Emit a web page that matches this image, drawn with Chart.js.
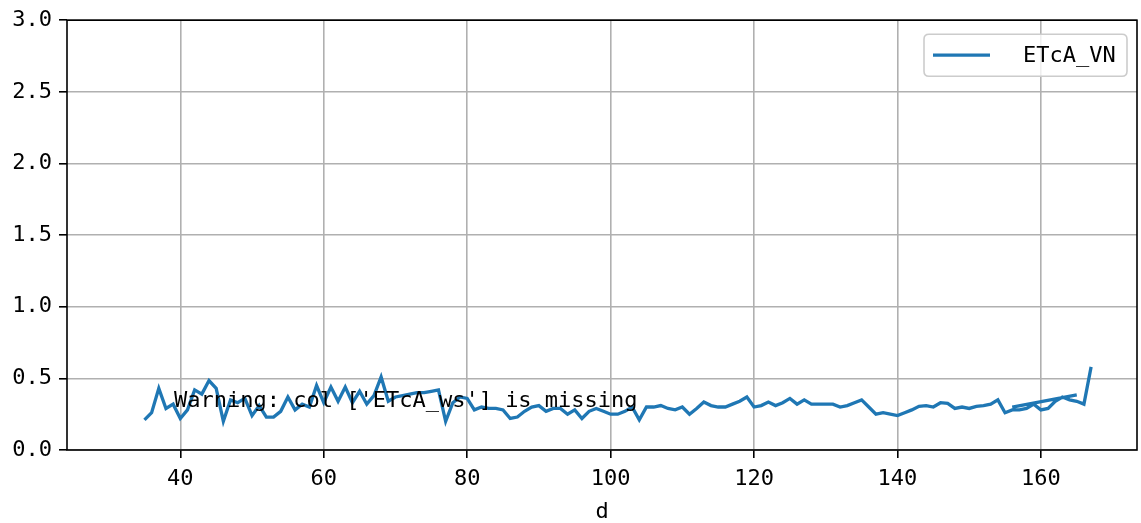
<!DOCTYPE html>
<html>
<head>
<meta charset="utf-8">
<script src="https://cdn.jsdelivr.net/npm/chart.js@4"></script>
<style>
html,body{margin:0;padding:0;background:#fff;}
#wrap{width:1141px;height:523px;}
</style>
</head>
<body>
<div id="wrap"><canvas id="c"></canvas></div>
<script>
const seriesLabel = 'ETcA_VN';
const warningText = "Warning: col ['ETcA_ws'] is missing";
const xTitle = 'd';

const days = [35,36,37,38,39,40,41,42,43,44,45,46,47,48,49,50,51,52,53,54,55,56,57,58,59,60,
  61,62,63,64,65,66,67,68,69,70,71,72,73,74,75,76,77,78,79,80,81,82,83,84,85,86,87,88,89,90,
  91,92,93,94,95,96,97,98,99,100,101,102,103,104,105,106,107,108,109,110,111,112,113,114,115,
  116,117,118,119,120,121,122,123,124,125,126,127,128,129,130,131,132,133,134,135,136,137,138,
  139,140,141,142,143,144,145,146,147,148,149,150,151,152,153,154,155,156,157,158,159,160,161,
  162,163,164,165,166,167];
const etcaVN = [0.21,0.26,0.43,0.29,0.32,0.22,0.28,0.42,0.39,0.485,0.43,0.20,0.35,0.33,0.36,0.24,
  0.31,0.23,0.23,0.27,0.37,0.28,0.32,0.30,0.45,0.33,
  0.44,0.34,0.44,0.33,0.41,0.32,0.38,0.51,0.34,0.37,0.38,0.39,0.40,0.40,0.41,0.42,0.20,0.33,0.37,0.36,
  0.28,0.30,0.29,0.29,0.28,0.22,0.23,0.27,0.30,0.31,
  0.27,0.29,0.29,0.25,0.28,0.22,0.27,0.29,0.27,0.25,0.25,0.27,0.30,0.21,0.30,0.30,0.31,0.29,0.28,0.30,
  0.25,0.29,0.335,0.31,0.30,
  0.30,0.32,0.34,0.37,0.30,0.31,0.335,0.31,0.33,0.36,0.32,0.35,0.32,0.32,0.32,0.32,0.30,0.31,0.33,0.35,
  0.30,0.25,0.26,
  0.25,0.24,0.26,0.28,0.305,0.31,0.30,0.33,0.325,0.29,0.30,0.29,0.305,0.31,0.32,0.35,0.26,0.28,0.28,
  0.29,0.32,0.28,0.29,
  0.34,0.37,0.35,0.34,0.32,0.58];
const extraDays = [156,165];
const extraVals = [0.30,0.385];

const yTicks = [0,0.5,1,1.5,2,2.5,3];
const xTicks = [40,60,80,100,120,140,160];

const FONT = '"DejaVu Sans Mono", monospace';
const lineColor = '#1f77b4';

const points = days.map((d,i)=>({x:d,y:etcaVN[i]}))
  .concat([{x:166,y:null}])
  .concat(extraDays.map((d,i)=>({x:d,y:extraVals[i]})));

const framePlugin = {
  id:'frame',
  afterDraw(chart){
    const {ctx, chartArea:a} = chart;
    ctx.save();
    ctx.strokeStyle = '#000';
    ctx.lineWidth = 1.6;
    ctx.strokeRect(a.left, a.top, a.right-a.left, a.bottom-a.top);
    ctx.fillStyle = '#000';
    ctx.font = '22px ' + FONT;
    ctx.textBaseline = 'alphabetic';
    ctx.textAlign = 'left';
    ctx.fillText(warningText, a.left + 0.1*(a.right-a.left), a.bottom - 0.1*(a.bottom-a.top));
    const bx = a.right - 213, by = a.top + 14, bw = 203, bh = 42, r = 5;
    ctx.beginPath();
    ctx.moveTo(bx+r, by);
    ctx.lineTo(bx+bw-r, by); ctx.quadraticCurveTo(bx+bw, by, bx+bw, by+r);
    ctx.lineTo(bx+bw, by+bh-r); ctx.quadraticCurveTo(bx+bw, by+bh, bx+bw-r, by+bh);
    ctx.lineTo(bx+r, by+bh); ctx.quadraticCurveTo(bx, by+bh, bx, by+bh-r);
    ctx.lineTo(bx, by+r); ctx.quadraticCurveTo(bx, by, bx+r, by);
    ctx.closePath();
    ctx.fillStyle = 'rgba(255,255,255,0.8)';
    ctx.fill();
    ctx.strokeStyle = '#cccccc';
    ctx.lineWidth = 1.6;
    ctx.stroke();
    const ly = by + bh/2;
    ctx.beginPath();
    ctx.moveTo(bx+9, ly); ctx.lineTo(bx+66, ly);
    ctx.strokeStyle = lineColor; ctx.lineWidth = 3.3; ctx.stroke();
    ctx.fillStyle = '#000';
    ctx.textBaseline = 'middle';
    ctx.font = '22px ' + FONT;
    ctx.fillText(chart.data.datasets[0].label, bx+99, ly+1);
    ctx.restore();
  }
};

new Chart(document.getElementById('c'), {
  type:'line',
  data:{datasets:[{
    label: seriesLabel,
    data: points,
    borderColor: lineColor,
    backgroundColor: lineColor,
    borderWidth: 3.3,
    pointRadius: 0,
    tension: 0,
    spanGaps: false,
    fill: false
  }]},
  options:{
    responsive:true,
    maintainAspectRatio:false,
    animation:false,
    devicePixelRatio:1,
    layout:{padding:{left:0,top:17,right:4,bottom:0}},
    plugins:{legend:{display:false}, tooltip:{enabled:false}},
    scales:{
      x:{
        type:'linear',
        min:24.2, max:173.4,
        afterFit(s){ s.height = 73; },
        afterBuildTicks(s){ s.ticks = xTicks.map(v=>({value:v})); },
        ticks:{color:'#000', font:{family:FONT,size:22}, padding:8, maxRotation:0,
          callback:v=>String(v)},
        grid:{color:'#b0b0b0', lineWidth:1.6, tickColor:'#000', tickLength:8, drawTicks:true},
        border:{display:false},
        title:{display:true, text:xTitle, color:'#000', font:{family:FONT,size:22,lineHeight:1.0}, padding:{top:0,bottom:0}}
      },
      y:{
        min:0, max:3,
        afterFit(s){ s.width = 67; },
        afterBuildTicks(s){ s.ticks = yTicks.map(v=>({value:v})); },
        ticks:{color:'#000', font:{family:FONT,size:22}, padding:7,
          callback:v=>Number(v).toFixed(1)},
        grid:{color:'#b0b0b0', lineWidth:1.6, tickColor:'#000', tickLength:8},
        border:{display:false}
      }
    }
  },
  plugins:[framePlugin]
});
</script>
</body>
</html>
